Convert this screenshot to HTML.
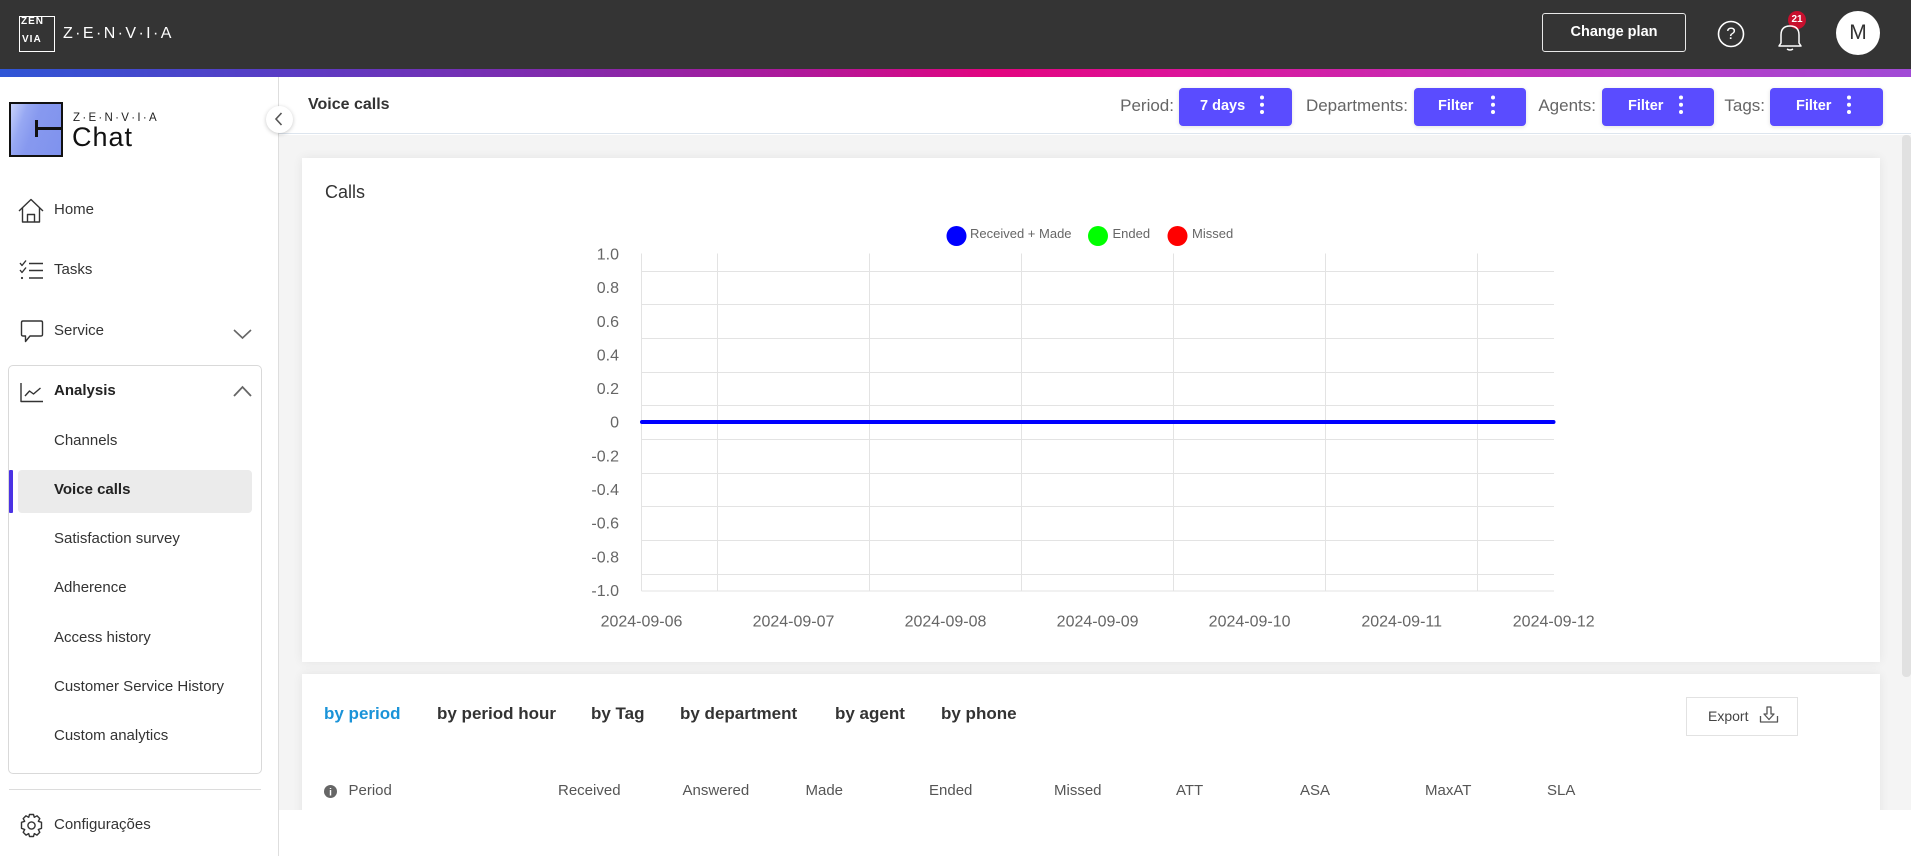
<!DOCTYPE html>
<html>
<head>
<meta charset="utf-8">
<style>
*{margin:0;padding:0;box-sizing:border-box}
html,body{width:1911px;height:856px;overflow:hidden;background:#fff;font-family:"Liberation Sans",Arial,sans-serif}
.a{position:absolute}
.t{position:absolute;white-space:nowrap;line-height:20px;height:20px}
.side{font-size:15px;color:#333;left:54px}
.btn{position:absolute;top:88px;height:38px;background:#5a4cff;border-radius:4px;box-shadow:0 1px 4px rgba(0,0,0,.12)}
.lbl{position:absolute;top:96px;font-size:17px;color:#666;line-height:20px;text-align:right;white-space:nowrap}
.bt{position:absolute;top:96px;font-size:14.5px;font-weight:bold;color:#fff;line-height:20px;white-space:nowrap}
.tab{position:absolute;top:704px;font-size:17px;font-weight:bold;color:#333;line-height:20px;white-space:nowrap}
.th{position:absolute;top:781px;font-size:15px;color:#555;line-height:20px;white-space:nowrap}
</style>
</head>
<body>
<!-- top bar -->
<div class="a" style="left:0;top:0;width:1911px;height:69px;background:#343434"></div>
<div class="a" style="left:0;top:69px;width:1911px;height:8px;background:linear-gradient(90deg,#2f56d6 0%,#5a3cc4 15%,#8a27a8 32%,#b0189a 42%,#e3047f 52%,#dc149a 62%,#c82bb2 75%,#b43dc6 88%,#a14bd6 100%)"></div>

<!-- main bg -->
<div class="a" style="left:279px;top:77px;width:1632px;height:57px;background:#fff;border-bottom:1px solid #dde5ee"></div>
<div class="a" style="left:279px;top:135px;width:1632px;height:675px;background:#f4f4f4"></div>

<!-- sidebar -->
<div class="a" style="left:0;top:77px;width:279px;height:779px;background:#fff;border-right:1px solid #dedede"></div>

<!-- top logo -->
<div class="a" style="left:19px;top:16px;width:36px;height:36px;border:1.5px solid #fff"></div>
<div class="t" style="left:21px;top:15px;font-size:10px;font-weight:bold;color:#fff;letter-spacing:1px;line-height:14px">ZEN</div>
<div class="t" style="left:22px;top:33px;font-size:10px;font-weight:bold;color:#fff;letter-spacing:1px;line-height:14px">VIA</div>
<div class="t" style="left:63px;top:24px;font-size:16px;color:#fff;letter-spacing:2.4px">Z·E·N·V·I·A</div>

<!-- change plan -->
<div class="a" style="left:1542px;top:13px;width:144px;height:39px;border:1px solid #e8e8e8;border-radius:3px;color:#fff;font-size:14.5px;font-weight:bold;line-height:37px;text-align:center">Change plan</div>
<div class="a" style="left:1836px;top:11px;width:44px;height:44px;border-radius:50%;background:#fff;color:#333;font-size:21px;line-height:44px;text-align:center">M</div>
<div class="a" style="left:1788px;top:11px;width:18px;height:18px;border-radius:50%;background:#c8102e;color:#fff;font-size:10px;font-weight:bold;line-height:18px;text-align:center">21</div>
<div class="t" style="left:1724px;top:24px;font-size:17px;color:#fff;width:14px;text-align:center">?</div>

<!-- chat logo -->
<div class="a" style="left:9px;top:102px;width:54px;height:55px;border:2.5px solid #111;background:linear-gradient(110deg,#c9d3fb 0%,#97a8f3 25%,#8799ef 45%,#7f92ee 100%)"></div>
<div class="a" style="left:35px;top:120px;width:3px;height:17px;background:#111"></div>
<div class="a" style="left:36px;top:127px;width:25px;height:3px;background:#111"></div>
<div class="t" style="left:73px;top:108px;font-size:11.5px;color:#222;letter-spacing:2.3px">Z·E·N·V·I·A</div>
<div class="a" style="left:72px;top:121px;font-size:27px;color:#111;letter-spacing:1px;line-height:32px;white-space:nowrap">Chat</div>

<!-- collapse btn -->
<div class="a" style="left:265.5px;top:105.5px;width:27px;height:27px;border-radius:50%;background:#fff;box-shadow:0 1px 4px rgba(0,0,0,.22)"></div>

<!-- sidebar menu -->
<div class="a" style="left:8px;top:365px;width:254px;height:409px;border:1px solid #d9d9d9;border-radius:5px"></div>
<div class="a" style="left:18px;top:470px;width:234px;height:43px;background:#ebebeb;border-radius:4px"></div>
<div class="a" style="left:9px;top:470px;width:4px;height:43px;background:#4b32e4;border-radius:1px"></div>
<div class="a" style="left:9px;top:789px;width:252px;height:1px;background:#dcdcdc"></div>

<div class="t side" style="top:200px">Home</div>
<div class="t side" style="top:260px">Tasks</div>
<div class="t side" style="top:321px">Service</div>
<div class="t side" style="top:381px;font-weight:bold;color:#222">Analysis</div>
<div class="t side" style="top:431px">Channels</div>
<div class="t side" style="top:480px;font-weight:bold;color:#222">Voice calls</div>
<div class="t side" style="top:529px">Satisfaction survey</div>
<div class="t side" style="top:578px">Adherence</div>
<div class="t side" style="top:628px">Access history</div>
<div class="t side" style="top:677px">Customer Service History</div>
<div class="t side" style="top:726px">Custom analytics</div>
<div class="t side" style="top:815px">Configurações</div>

<!-- header -->
<div class="t" style="left:308px;top:95px;font-size:16px;font-weight:bold;color:#333">Voice calls</div>
<div class="lbl" style="right:737px">Period:</div>
<div class="lbl" style="right:503px">Departments:</div>
<div class="lbl" style="right:315px">Agents:</div>
<div class="lbl" style="right:146px">Tags:</div>
<div class="btn" style="left:1179px;width:113px"></div>
<div class="btn" style="left:1414px;width:112px"></div>
<div class="btn" style="left:1602px;width:112px"></div>
<div class="btn" style="left:1770px;width:113px"></div>
<div class="bt" style="left:1200px">7 days</div>
<div class="bt" style="left:1438px">Filter</div>
<div class="bt" style="left:1628px">Filter</div>
<div class="bt" style="left:1796px">Filter</div>

<!-- chart card -->
<div class="a" style="left:302px;top:158px;width:1578px;height:504px;background:#fff;box-shadow:0 0 10px rgba(0,0,0,.07)"></div>
<div class="t" style="left:325px;top:182px;font-size:18px;color:#333">Calls</div>

<!-- bottom card -->
<div class="a" style="left:302px;top:674px;width:1578px;height:182px;background:#fff;box-shadow:0 0 10px rgba(0,0,0,.07)"></div>
<div class="a" style="left:279px;top:810px;width:1632px;height:46px;background:#fff"></div>

<div class="tab" style="left:324px;color:#1a93d8">by period</div>
<div class="tab" style="left:437px">by period hour</div>
<div class="tab" style="left:591px">by Tag</div>
<div class="tab" style="left:680px">by department</div>
<div class="tab" style="left:835px">by agent</div>
<div class="tab" style="left:941px">by phone</div>

<div class="a" style="left:1686px;top:697px;width:112px;height:39px;border:1px solid #e2e2e2;background:#fff"></div>
<div class="t" style="left:1708px;top:706px;font-size:14px;color:#444">Export</div>

<div class="th" style="left:348.5px">Period</div>
<div class="th" style="left:558px">Received</div>
<div class="th" style="left:682.5px">Answered</div>
<div class="th" style="left:805.5px">Made</div>
<div class="th" style="left:929px">Ended</div>
<div class="th" style="left:1054px">Missed</div>
<div class="th" style="left:1176px">ATT</div>
<div class="th" style="left:1300px">ASA</div>
<div class="th" style="left:1425px">MaxAT</div>
<div class="th" style="left:1547px">SLA</div>

<!-- scrollbar -->
<div class="a" style="left:1902px;top:135px;width:9px;height:542px;background:#e1e1e1;border-radius:4px"></div>

<svg class="a" style="left:0;top:0" width="1911" height="856" xmlns="http://www.w3.org/2000/svg" font-family="Liberation Sans, Arial, sans-serif">
  <!-- top icons -->
  <circle cx="1731" cy="34" r="12.5" fill="none" stroke="#fff" stroke-width="1.6"/>
  <path d="M1779 46 L1781 43 L1781 35 Q1781 26 1790 26 Q1799 26 1799 35 L1799 43 L1801 46 Z" fill="none" stroke="#fff" stroke-width="1.5" stroke-linejoin="round"/>
  <path d="M1787 49 Q1790 51 1793 49" fill="none" stroke="#fff" stroke-width="1.5"/>

  <!-- collapse chevron -->
  <polyline points="281.5,113 276,119 281.5,125" fill="none" stroke="#555" stroke-width="1.6"/>

  <!-- sidebar icons -->
  <g fill="none" stroke="#333" stroke-width="1.4" stroke-linejoin="round">
    <path d="M19 211 L31 199.5 L43 211"/>
    <path d="M22.5 208 L22.5 222 L39.5 222 L39.5 208"/>
    <path d="M27.5 222 L27.5 214.5 L34.5 214.5 L34.5 222"/>
    <path d="M20 263 L22 265.5 L26 260.5"/>
    <path d="M20 270 L22 272.5 L26 267.5"/>
    <circle cx="22" cy="278" r="1.1" fill="#333" stroke="none"/>
    <path d="M29 263.5 H43 M29 270.5 H43 M29 278 H43"/>
    <path d="M23 321 H41 Q42.5 321 42.5 322.5 V334.5 Q42.5 336 41 336 H30 L25.5 341.5 V336 H23 Q21.5 336 21.5 334.5 V322.5 Q21.5 321 23 321 Z"/>
    <path d="M21 383 V401.5 H43"/>
    <path d="M25 396 L29.5 391 L33.5 394 L40.5 388"/>
    <circle cx="31.5" cy="825.5" r="3.6"/>
    <path d="M29.5 814.5 H33.5 L34.3 817.3 L37 815.8 L39.8 818.6 L38.3 821.3 L41.5 822.3 V828.3 L38.3 829.5 L39.8 832.3 L37 835.1 L34.3 833.6 L33.5 836.5 H29.5 L28.7 833.6 L26 835.1 L23.2 832.3 L24.7 829.5 L21.5 828.3 V822.3 L24.7 821.3 L23.2 818.6 L26 815.8 L28.7 817.3 Z"/>
  </g>
  <polyline points="234,330 242.5,338 251,330" fill="none" stroke="#666" stroke-width="1.6"/>
  <polyline points="234,396 242.5,387 251,396" fill="none" stroke="#666" stroke-width="1.8"/>

  <!-- kebab dots -->
  <g fill="#fff">
    <circle cx="1262" cy="97.5" r="2"/><circle cx="1262" cy="104.7" r="2"/><circle cx="1262" cy="112" r="2"/>
    <circle cx="1493" cy="97.5" r="2"/><circle cx="1493" cy="104.7" r="2"/><circle cx="1493" cy="112" r="2"/>
    <circle cx="1681" cy="97.5" r="2"/><circle cx="1681" cy="104.7" r="2"/><circle cx="1681" cy="112" r="2"/>
    <circle cx="1849" cy="97.5" r="2"/><circle cx="1849" cy="104.7" r="2"/><circle cx="1849" cy="112" r="2"/>
  </g>

  <!-- legend -->
  <circle cx="956.5" cy="236" r="10" fill="#0000ff"/>
  <circle cx="1098" cy="236" r="10" fill="#00ff00"/>
  <circle cx="1177.5" cy="236" r="10" fill="#ff0000"/>
  <g font-size="13" fill="#666">
    <text x="970" y="238">Received + Made</text>
    <text x="1112.5" y="238">Ended</text>
    <text x="1192" y="238">Missed</text>
  </g>

  <!-- grid -->
  <g stroke="#e3e3e3" stroke-width="1">
    <line x1="641.5" y1="253.5" x2="641.5" y2="591"/>
    <line x1="717.5" y1="253.5" x2="717.5" y2="591"/>
    <line x1="869.5" y1="253.5" x2="869.5" y2="591"/>
    <line x1="1021.5" y1="253.5" x2="1021.5" y2="591"/>
    <line x1="1173.5" y1="253.5" x2="1173.5" y2="591"/>
    <line x1="1325.5" y1="253.5" x2="1325.5" y2="591"/>
    <line x1="1477.5" y1="253.5" x2="1477.5" y2="591"/>
    <line x1="641.5" y1="271.5" x2="1554" y2="271.5"/>
    <line x1="641.5" y1="304.5" x2="1554" y2="304.5"/>
    <line x1="641.5" y1="338.5" x2="1554" y2="338.5"/>
    <line x1="641.5" y1="372.5" x2="1554" y2="372.5"/>
    <line x1="641.5" y1="405.5" x2="1554" y2="405.5"/>
    <line x1="641.5" y1="439.5" x2="1554" y2="439.5"/>
    <line x1="641.5" y1="473.5" x2="1554" y2="473.5"/>
    <line x1="641.5" y1="506.5" x2="1554" y2="506.5"/>
    <line x1="641.5" y1="540.5" x2="1554" y2="540.5"/>
    <line x1="641.5" y1="574.5" x2="1554" y2="574.5"/>
    <line x1="641.5" y1="591" x2="1554" y2="591"/>
  </g>

  <!-- y labels -->
  <g font-size="16" fill="#666" text-anchor="end">
    <text x="619" y="259.5">1.0</text>
    <text x="619" y="293">0.8</text>
    <text x="619" y="326.8">0.6</text>
    <text x="619" y="360.5">0.4</text>
    <text x="619" y="394">0.2</text>
    <text x="619" y="427.6">0</text>
    <text x="619" y="461.3">-0.2</text>
    <text x="619" y="495">-0.4</text>
    <text x="619" y="528.6">-0.6</text>
    <text x="619" y="562.3">-0.8</text>
    <text x="619" y="596">-1.0</text>
  </g>
  <!-- x labels -->
  <g font-size="16" fill="#666" text-anchor="middle">
    <text x="641.5" y="626.5">2024-09-06</text>
    <text x="793.5" y="626.5">2024-09-07</text>
    <text x="945.5" y="626.5">2024-09-08</text>
    <text x="1097.6" y="626.5">2024-09-09</text>
    <text x="1249.6" y="626.5">2024-09-10</text>
    <text x="1401.7" y="626.5">2024-09-11</text>
    <text x="1553.7" y="626.5">2024-09-12</text>
  </g>

  <!-- data line -->
  <line x1="642" y1="422" x2="1553.5" y2="422" stroke="#0000ff" stroke-width="4" stroke-linecap="round"/>

  <!-- info icon -->
  <circle cx="330.5" cy="791.5" r="6.5" fill="#666"/>
  <text x="330.5" y="795.5" font-size="10" font-weight="bold" fill="#fff" text-anchor="middle">i</text>

  <!-- export icon -->
  <g fill="none" stroke="#555" stroke-width="1.3" stroke-linejoin="round">
    <path d="M1767 707 H1771 V714 H1774 L1769 719.5 L1764 714 H1767 Z"/>
    <path d="M1760.5 716 V722 H1777.5 V716"/>
  </g>
</svg>
</body>
</html>
